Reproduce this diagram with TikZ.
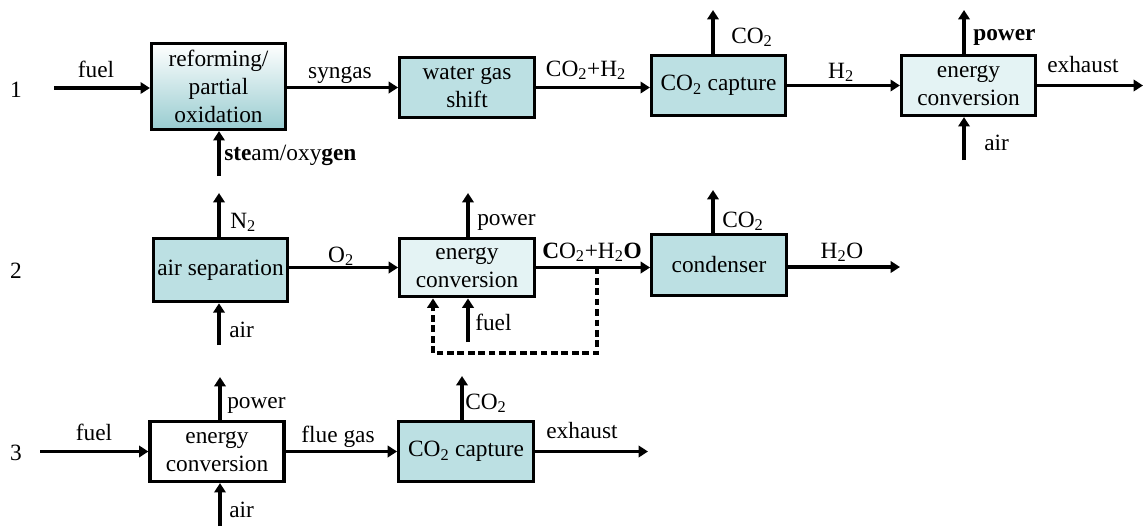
\documentclass[tikz,border=0pt]{standalone}
\usepackage{fontspec}
\setmainfont{Liberation Serif}
\usetikzlibrary{arrows.meta}
\definecolor{tealbox}{HTML}{BCE0E3}
\definecolor{palebox}{HTML}{E4F3F4}
\definecolor{tealdark}{HTML}{98CCD0}
\tikzset{
  unit/.style={draw, line width=2.4pt, inner sep=0pt, align=center},
  flow/.style={line width=2.8pt, -{Triangle[length=7pt,width=8.5pt]}},
  recycle/.style={line width=2.6pt, dash pattern=on 5pt off 2.8pt, -{Triangle[length=7pt,width=8.5pt]}},
  lbl/.style={inner sep=0pt, anchor=base west},
  clbl/.style={inner sep=0pt, anchor=base},
}
\begin{document}
\begin{tikzpicture}[x=0.75pt, y=-0.75pt, font=\fontsize{17.5}{21}\selectfont]
\useasboundingbox (0,0) rectangle (1145,526);
% row 1
\node[unit, top color=white, bottom color=tealdark, minimum width=100.5pt, minimum height=64.5pt] (ref) at (218.5,86.5) {reforming/\\partial\\oxidation};
\node[unit, fill=tealbox, minimum width=101pt, minimum height=45pt] (wgs) at (467,87.5) {water gas\\shift};
\node[unit, fill=tealbox, minimum width=100.5pt, minimum height=45pt] (cap1) at (718.5,85.5) {CO\textsubscript{2} capture};
\node[unit, fill=palebox, minimum width=100.5pt, minimum height=45pt] (ec1) at (968.5,85.5) {energy\\conversion};
\coordinate (fu1) at (54,88);
\coordinate (st1) at (219,176);
\coordinate (co1) at (713,10);
\coordinate (pw1) at (964,10);
\coordinate (ai1) at (964,160);
\coordinate (ex1) at (1143,85.5);
\draw[flow] (fu1) -- (fu1 -| ref.west);
\draw[flow] (ref.east |- wgs) -- (wgs.west);
\draw[flow] (wgs.east) -- (wgs.east -| cap1.west);
\draw[flow] (cap1.east) -- (ec1.west);
\draw[flow] (ec1.east) -- (ex1);
\draw[flow] (st1) -- (st1 |- ref.south);
\draw[flow] (co1 |- cap1.north) -- (co1);
\draw[flow] (pw1 |- ec1.north) -- (pw1);
\draw[flow] (ai1) -- (ai1 |- ec1.south);
\node[clbl] (num1) at (16,97) {1};
\node[clbl] (tfu1) at (96,77) {fuel};
\node[clbl] (tsyn) at (340,78) {syngas};
\node[clbl] (tco1) at (586,76) {CO\textsubscript{2}+H\textsubscript{2}};
\node[lbl] (tst1) at (224,160) {\textbf{ste}am/oxy\textbf{gen}};
\node[lbl] (tcap1) at (731,43) {CO\textsubscript{2}};
\node[clbl] (th2) at (841,78) {H\textsubscript{2}};
\node[lbl] (tpw1) at (973,40) {\textbf{power}};
\node[lbl] (tex1) at (1047,72) {exhaust};
\node[lbl] (tai1) at (984,150) {air};
% row 2
\node[unit, fill=tealbox, minimum width=100.5pt, minimum height=47.5pt] (asu) at (220.5,270) {air separation};
\node[unit, fill=palebox, minimum width=101pt, minimum height=44pt] (ec2) at (467,267.5) {energy\\conversion};
\node[unit, fill=tealbox, minimum width=101pt, minimum height=46pt] (cnd) at (719,265) {condenser};
\coordinate (n2) at (219,193);
\coordinate (ai2) at (219,345);
\coordinate (pw2) at (468,193);
\coordinate (fu2) at (468,342);
\coordinate (co2) at (713,190);
\coordinate (ho2) at (900,267);
\coordinate (fb) at (597,267.5);
\coordinate (fbl) at (433,353);
\draw[flow] (n2 |- asu.north) -- (n2);
\draw[flow] (ai2) -- (ai2 |- asu.south);
\draw[flow] (asu.east |- ec2) -- (ec2.west);
\draw[flow] (pw2 |- ec2.north) -- (pw2);
\draw[flow] (fu2) -- (fu2 |- ec2.south);
\draw[flow] (ec2.east) -- (ec2.east -| cnd.west);
\draw[recycle] (fb) |- (fbl) -- (fbl |- ec2.south);
\draw[flow] (co2 |- cnd.north) -- (co2);
\draw[flow] (ho2 -| cnd.east) -- (ho2);
\node[clbl] (num2) at (16,278) {2};
\node[lbl] (tn2) at (230,228) {N\textsubscript{2}};
\node[lbl] (tai2) at (229,337) {air};
\node[clbl] (to2) at (341,262) {O\textsubscript{2}};
\node[lbl] (tpw2) at (477,225) {power};
\node[lbl] (tfu2) at (475,330) {fuel};
\node[lbl] (tco2) at (542,258) {\textbf{C}O\textsubscript{2}+H\textsubscript{2}\textbf{O}};
\node[lbl] (tcnd) at (722,227) {CO\textsubscript{2}};
\node[clbl] (tho2) at (842,258) {H\textsubscript{2}O};
% row 3
\node[unit, fill=white, minimum width=100.5pt, minimum height=45pt] (ec3) at (217,451.5) {energy\\conversion};
\node[unit, fill=tealbox, minimum width=101pt, minimum height=45pt] (cap3) at (466,451.5) {CO\textsubscript{2} capture};
\coordinate (fu3) at (40,451.5);
\coordinate (pw3) at (220,377);
\coordinate (ai3) at (220,526);
\coordinate (co3) at (462,376);
\coordinate (ex3) at (648,451.5);
\draw[flow] (fu3) -- (ec3.west);
\draw[flow] (pw3 |- ec3.north) -- (pw3);
\draw[flow] (ai3) -- (ai3 |- ec3.south);
\draw[flow] (ec3.east) -- (cap3.west);
\draw[flow] (co3 |- cap3.north) -- (co3);
\draw[flow] (cap3.east) -- (ex3);
\node[clbl] (num3) at (16,460) {3};
\node[clbl] (tfu3) at (94,440) {fuel};
\node[lbl] (tpw3) at (227,408) {power};
\node[lbl] (tai3) at (229,517) {air};
\node[clbl] (tflue) at (338,442) {flue gas};
\node[lbl] (tco3) at (465,409) {CO\textsubscript{2}};
\node[clbl] (tex3) at (582,438) {exhaust};
\end{tikzpicture}
\end{document}
